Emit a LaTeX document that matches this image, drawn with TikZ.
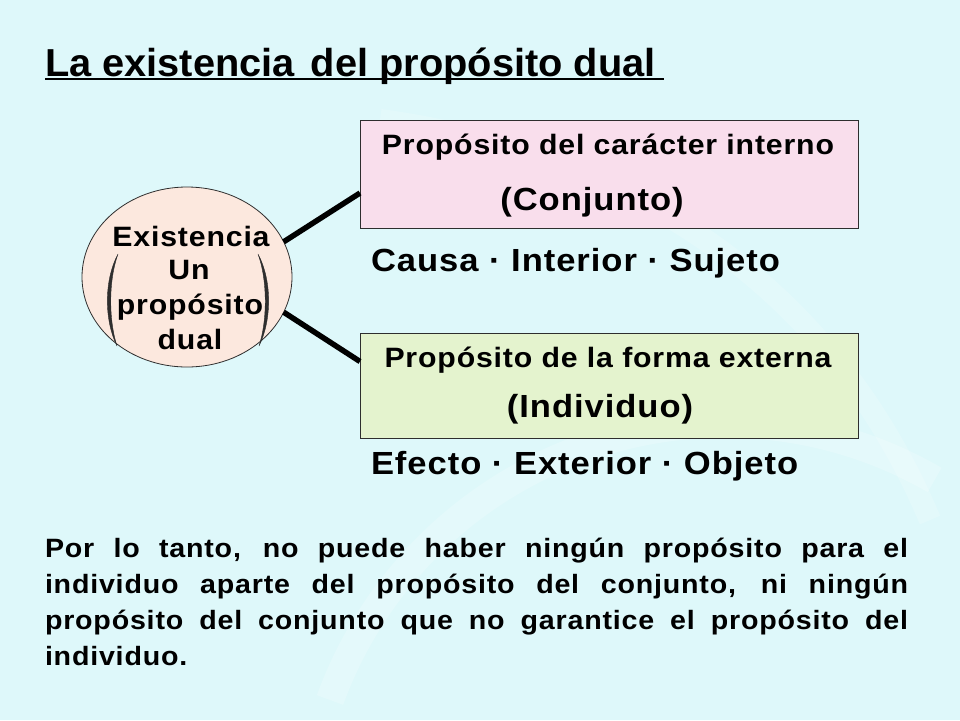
\documentclass[tikz,border=0pt]{standalone}
\usepackage{fontspec}
\setmainfont{Liberation Sans}
\newfontfamily\wfont[FakeStretch=1.08, LetterSpace=3]{Liberation Sans}
\newfontfamily\tfont[FakeStretch=1.02]{Liberation Sans}
\usetikzlibrary{shapes.geometric,calc}
\definecolor{bgc}{HTML}{DEF8FA}
\definecolor{pinkc}{HTML}{F9DEEC}
\definecolor{greenc}{HTML}{E4F3CE}
\definecolor{peachc}{HTML}{FCE8DE}
\definecolor{edgec}{HTML}{2E2E2E}
\begin{document}
\begin{tikzpicture}[x=1pt,y=-1pt,
  every node/.style={inner sep=0pt, outer sep=0pt},
  boxhead/.style={font=\wfont\bfseries\fontsize{28}{32}\selectfont, anchor=base},
  boxsub/.style={font=\wfont\bfseries\fontsize{32}{36}\selectfont, anchor=base},
  tag/.style={font=\wfont\bfseries\fontsize{32}{36}\selectfont, anchor=base west},
  ovaltext/.style={font=\wfont\bfseries\fontsize{28}{32}\selectfont, anchor=base},
  paraline/.style={font=\wfont\bfseries\fontsize{26.5}{36}\selectfont, anchor=base west},
  purposebox/.style={draw=edgec, line width=0.9pt, rectangle, minimum width=498pt},
  connector/.style={line width=5.5pt, black},
  bracketc/.style={fill=edgec, draw=edgec, line width=0.4pt}]
% background
\fill[bgc] (0,0) rectangle (960,720);
\useasboundingbox (0,0) rectangle (960,720);
\draw[white, opacity=0.2, line width=28pt] (330,700) arc[start angle=200, end angle=300, x radius=420pt, y radius=-420pt];
\draw[white, opacity=0.18, line width=22pt] (380,120) .. controls (600,150) and (820,260) .. (930,520);

% title
\node[anchor=base west, font=\tfont\bfseries\fontsize{39}{44}\selectfont] (title) at (45,76) {La existencia\hspace{5pt} del propósito dual};
\coordinate (ulstart) at (45,79);
\coordinate (ulend) at (664,79);
\draw[line width=2.5pt] (ulstart) -- (ulend);

% oval
\node[ellipse, draw=edgec, line width=0.8pt, fill=peachc, minimum width=210pt, minimum height=180pt] (ov) at (187,277) {};
\node[ovaltext] (ov1) at (191,246) {Existencia};
\node[ovaltext] (ov2) at (189,279) {Un};
\node[ovaltext] (ov3) at (190,314) {propósito};
\node[ovaltext] (ov4) at (190,349) {dual};
% brackets
\fill[bracketc] (118,254) .. controls (104,280) and (104,320) .. (117,346)
               .. controls (108.5,320) and (108.5,280) .. (118,254) -- cycle;
\fill[bracketc] (258,254) .. controls (272,280) and (272,320) .. (259,346)
               .. controls (267.5,320) and (267.5,280) .. (258,254) -- cycle;

% boxes
\node[purposebox, fill=pinkc, minimum height=108pt] (inner) at (609,174) {};
\node[purposebox, fill=greenc, minimum height=105pt] (outer) at (609,385.5) {};
\node[boxhead] (innerh) at (608,154) {Propósito del carácter interno};
\node[boxsub] (inners) at (592,210) {(Conjunto)};
\node[boxhead] (outerh) at (608,367) {Propósito de la forma externa};
\node[boxsub] (outers) at (600,417) {(Individuo)};

% connectors
\draw[connector] (ov.20) -- ($(inner.west)+(0,19)$);
\draw[connector] (ov.-20) -- ($(outer.west)+(0,-24)$);

% tags
\node[tag] (cause) at (371,271) {Causa · Interior · Sujeto};
\node[tag] (effect) at (371,474) {Efecto · Exterior · Objeto};

% paragraph
\node[paraline] (p1) at (45,557) {\makebox[863pt][s]{Por lo tanto, no puede haber ningún propósito para el}};
\node[paraline] (p2) at (45,593) {\makebox[863pt][s]{individuo aparte del propósito del conjunto, ni ningún}};
\node[paraline] (p3) at (45,629) {\makebox[863pt][s]{propósito del conjunto que no garantice el propósito del}};
\node[paraline] (p4) at (45,665) {individuo.};
\end{tikzpicture}
\end{document}
